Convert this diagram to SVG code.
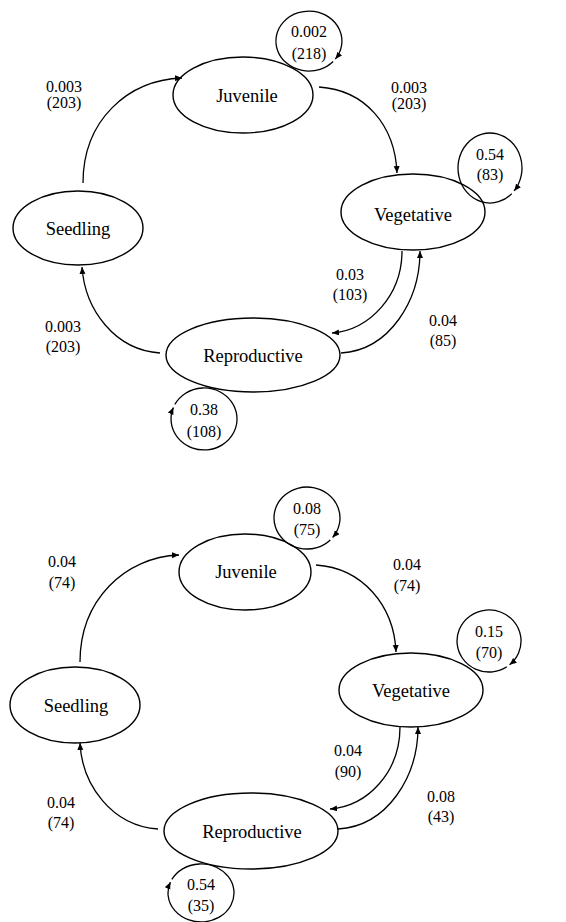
<svg xmlns="http://www.w3.org/2000/svg" width="566" height="922" viewBox="0 0 566 922">
<style>
.n{fill:none;stroke:#000;stroke-width:1.4}
.c{fill:none;stroke:#000;stroke-width:1.3;marker-end:url(#ah)}
.t{font-family:"Liberation Serif","Times New Roman",serif;font-size:18.5px;text-anchor:middle;fill:#000}
.l{font-family:"Liberation Serif","Times New Roman",serif;font-size:16px;text-anchor:middle;fill:#000}
</style>
<defs>
<marker id="ah" markerUnits="userSpaceOnUse" markerWidth="10" markerHeight="8" refX="7" refY="3" orient="auto">
<path d="M0,0 L7,3 L0,6 Z" fill="#000"/>
</marker>
</defs>
<rect width="566" height="922" fill="#fff"/>

<g id="top-nodes">
<g id="t-juvenile"><ellipse class="n" cx="243" cy="95" rx="70" ry="38"/><text class="t" x="247" y="102">Juvenile</text></g>
<g id="t-vegetative"><ellipse class="n" cx="413" cy="212" rx="72" ry="38"/><text class="t" x="413" y="221">Vegetative</text></g>
<g id="t-seedling"><ellipse class="n" cx="78" cy="228" rx="65" ry="37"/><text class="t" x="78" y="235">Seedling</text></g>
<g id="t-reproductive"><ellipse class="n" cx="253" cy="355" rx="87" ry="37"/><text class="t" x="253" y="362">Reproductive</text></g>
</g>

<g id="bottom-nodes">
<g id="b-juvenile"><ellipse class="n" cx="245" cy="572" rx="66" ry="38"/><text class="t" x="246" y="578">Juvenile</text></g>
<g id="b-vegetative"><ellipse class="n" cx="411" cy="690" rx="72" ry="37"/><text class="t" x="411" y="697">Vegetative</text></g>
<g id="b-seedling"><ellipse class="n" cx="75" cy="705" rx="65" ry="38"/><text class="t" x="76" y="712">Seedling</text></g>
<g id="b-reproductive"><ellipse class="n" cx="251" cy="831" rx="87" ry="38"/><text class="t" x="252" y="838">Reproductive</text></g>
</g>

<g id="connectors">
<path class="c" d="M83,183 C83,120 128,80 182,78"/>
<path class="c" d="M319,87 C365,90 395,125 397,173"/>
<path class="c" d="M160,353 C115,350 85,310 82,267"/>
<path class="c" d="M402,251 C402,295 370,330 332,333"/>
<path class="c" d="M341,353 C390,350 420,300 420,251"/>
<path class="c" d="M333.14,61.46 A33,30 0 1 1 335.35,59.05"/>
<path class="c" d="M511.82,193.6 A32,35 0 1 1 514.15,190.96"/>
<path class="c" d="M174.86,404.44 A33,31 0 1 1 173.4,407.39"/>

<path class="c" d="M80,662 C80,600 125,557 179,555"/>
<path class="c" d="M316,565 C362,568 394,605 396,652"/>
<path class="c" d="M158,829 C112,826 82,785 80,743"/>
<path class="c" d="M400,727 C400,772 368,806 330,809"/>
<path class="c" d="M338,829 C388,826 418,776 418,727"/>
<path class="c" d="M330.33,539.92 A33,31 0 1 1 332.64,537.51"/>
<path class="c" d="M506.89,666.7 A32,31 0 1 1 509.57,664.75"/>
<path class="c" d="M171.86,879.38 A33,29 0 1 1 170.4,882.14"/>
</g>

<g id="labels">
<text class="l" x="309" y="37">0.002</text><text class="l" x="309" y="59">(218)</text>
<text class="l" x="64" y="92">0.003</text><text class="l" x="64" y="108">(203)</text>
<text class="l" x="409" y="93">0.003</text><text class="l" x="409" y="109">(203)</text>
<text class="l" x="490" y="160">0.54</text><text class="l" x="490" y="180">(83)</text>
<text class="l" x="350" y="280">0.03</text><text class="l" x="350" y="300">(103)</text>
<text class="l" x="443" y="326">0.04</text><text class="l" x="443" y="346">(85)</text>
<text class="l" x="63" y="332">0.003</text><text class="l" x="63" y="352">(203)</text>
<text class="l" x="204" y="415">0.38</text><text class="l" x="204" y="437">(108)</text>

<text class="l" x="307" y="514">0.08</text><text class="l" x="307" y="535">(75)</text>
<text class="l" x="62" y="567">0.04</text><text class="l" x="62" y="588">(74)</text>
<text class="l" x="407" y="570">0.04</text><text class="l" x="407" y="591">(74)</text>
<text class="l" x="489" y="637">0.15</text><text class="l" x="489" y="658">(70)</text>
<text class="l" x="348" y="756">0.04</text><text class="l" x="348" y="777">(90)</text>
<text class="l" x="441" y="802">0.08</text><text class="l" x="441" y="822">(43)</text>
<text class="l" x="61" y="808">0.04</text><text class="l" x="61" y="828">(74)</text>
<text class="l" x="201" y="890">0.54</text><text class="l" x="201" y="911">(35)</text>
</g>
</svg>
